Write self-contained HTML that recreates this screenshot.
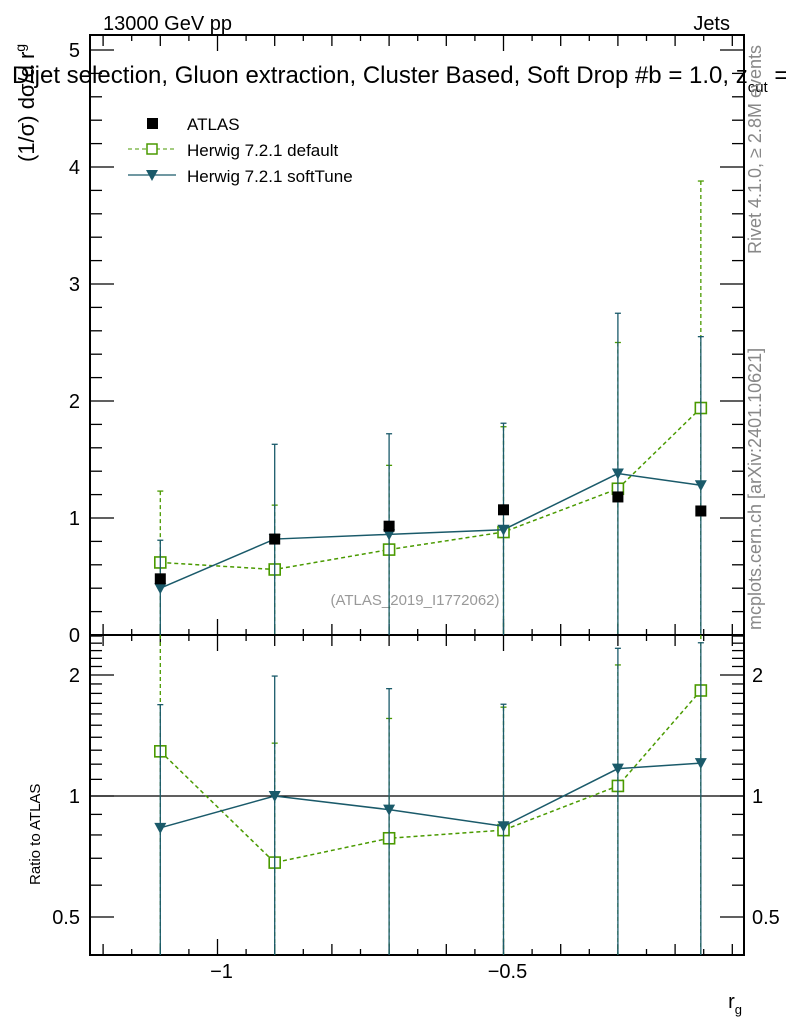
<!DOCTYPE html>
<html><head><meta charset="utf-8"><style>
body{margin:0;background:#fff;}
svg{font-family:"Liberation Sans",sans-serif;}
</style></head><body>
<svg id="c" width="786" height="1024" viewBox="0 0 786 1024" xmlns="http://www.w3.org/2000/svg">
<text x="103" y="30" font-size="20">13000 GeV pp</text>
<text x="730" y="30" font-size="20" text-anchor="end">Jets</text>
<text x="12" y="83" font-size="24">Dijet selection, Gluon extraction, Cluster Based, Soft Drop #b = 1.0, z<tspan font-size="15" dy="9">cut</tspan><tspan dy="-9"> =</tspan></text>
<text transform="translate(34,162) rotate(-90)" font-size="22">(1/σ) dσ/d r<tspan font-size="14" dy="-9">g</tspan></text>
<text transform="translate(40,885) rotate(-90)" font-size="15">Ratio to ATLAS</text>
<text x="742" y="1008" font-size="20" text-anchor="end">r<tspan font-size="13" dy="6">g</tspan></text>
<text transform="translate(761,254) rotate(-90)" font-size="18" fill="#888">Rivet 4.1.0, ≥ 2.8M events</text>
<text transform="translate(761,630) rotate(-90)" font-size="18" fill="#888">mcplots.cern.ch [arXiv:2401.10621]</text>
<text x="415" y="605" font-size="15" fill="#999" text-anchor="middle">(ATLAS_2019_I1772062)</text>
<g id="legend">
<rect x="147" y="118" width="11" height="11" fill="#000"/>
<text x="187" y="130" font-size="17">ATLAS</text>
<line x1="128" y1="149" x2="176" y2="149" stroke="#4a9a00" stroke-dasharray="4,3"/>
<rect x="147" y="144" width="10" height="10" fill="#fff" stroke="#4a9a00" stroke-width="1.5"/>
<text x="187" y="156" font-size="17">Herwig 7.2.1 default</text>
<line x1="128" y1="175" x2="176" y2="175" stroke="#1a5a6a" stroke-width="1.3"/>
<polygon points="146,170 158,170 152,181" fill="#1a5a6a"/>
<text x="187" y="182" font-size="17">Herwig 7.2.1 softTune</text>
</g>
<g id="plot"></g>
</svg>
<script>
const xVals=[-1.1,-0.9,-0.7,-0.5,-0.3,-0.155];
const atlas=[0.48,0.82,0.93,1.07,1.18,1.06];
const defVals=[0.62,0.56,0.73,0.88,1.25,1.94];
const defUp=[1.23,1.11,1.45,1.78,2.50,3.88];
const softVals=[0.40,0.82,0.86,0.90,1.38,1.28];
const softUp=[0.81,1.63,1.72,1.81,2.75,2.55];
const mainTicks=[0,1,2,3,4,5];
const ratioTicks=[0.5,1,2];
const xTicks=[-1,-0.5];

const NS="http://www.w3.org/2000/svg";
const g=document.getElementById('plot');
const L=90,R=744,T1=35,B1=635,B2=955;
const X=v=>217.5+(v+1)*572;
const Y=v=>635-v*117;
const YR=v=>796-Math.log2(v)*121;
function el(t,a){const e=document.createElementNS(NS,t);for(const k in a)e.setAttribute(k,a[k]);g.appendChild(e);return e;}
const clipM=v=>Math.max(T1,Math.min(B1,v));
const clipR=v=>Math.max(B1,Math.min(B2,v));

let f=el('rect',{x:L,y:T1,width:R-L,height:B1-T1,fill:'none',stroke:'#000','stroke-width':2});


f=el('rect',{x:L,y:B1,width:R-L,height:B2-B1,fill:'none',stroke:'#000','stroke-width':2});



for(let i=0;i<=30;i++){
  const v=-1.25+i*0.05; const x=X(v); if(x<L+2||x>R-2)continue;
  const isMaj=Math.abs(Math.round(v*10)-v*10)<1e-6;
  const isLab=xTicks.some(t=>Math.abs(t-v)<1e-6);
  const h=isLab?16:(isMaj?11:6);
  [[T1,1],[B1,-1],[B1,1],[B2,-1]].forEach(([y,d])=>{
    const t=el('line',{x1:x,x2:x,y1:y,y2:y+d*h,stroke:'#000','stroke-width':1.3});
    
    
  });
}
xTicks.forEach(v=>{
  const t=el('text',{x:X(v)+4,y:978,'font-size':20,'text-anchor':'middle'});t.textContent=String(v).replace('-','−');
  
  
});
for(let i=0;i<=51;i++){
  const v=i*0.2; const y=Y(v); if(y<T1)continue;
  const maj=i%5==0; const h=maj?24:12;
  [[L,1],[R,-1]].forEach(([x,d])=>{
    const t=el('line',{x1:x,x2:x+d*h,y1:y,y2:y,stroke:'#000','stroke-width':1.3});
    
    
  });
}
mainTicks.forEach(v=>{
  const t=el('text',{x:80,y:Y(v)+7,'font-size':20,'text-anchor':'end'});t.textContent=v;
  
  
});
for(let i=4;i<=25;i++){
  const v=i/10; const y=YR(v); if(y<B1||y>B2)continue;
  const maj=ratioTicks.some(t=>Math.abs(t-v)<1e-6); const h=maj?24:12;
  [[L,1],[R,-1]].forEach(([x,d])=>{
    const t=el('line',{x1:x,x2:x+d*h,y1:y,y2:y,stroke:'#000','stroke-width':1.3});
    
    
  });
}
ratioTicks.forEach(v=>{
  [[80,'end'],[752,'start']].forEach(([x,a])=>{
    const t=el('text',{x:x,y:YR(v)+7,'font-size':20,'text-anchor':a});t.textContent=v;
    
    
  });
});
let ln=el('line',{x1:L,x2:R,y1:YR(1),y2:YR(1),stroke:'#000','stroke-width':1.2});



function series(vals,up,col,dash,marker,name){
  const lo=vals.map((v,i)=>v-(up[i]-v));
  vals.forEach((v,i)=>{
    const x=X(xVals[i]);
    const e=el('line',{x1:x,x2:x,y1:clipM(Y(up[i])),y2:clipM(Y(lo[i])),stroke:col,'stroke-width':1.3,'stroke-dasharray':dash});
    
    
    const c=el('line',{x1:x-3,x2:x+3,y1:Y(up[i]),y2:Y(up[i]),stroke:col,'stroke-width':1.3});
    
    
    const ru=up[i]/atlas[i], rl=Math.max(0.01,lo[i]/atlas[i]);
    const e2=el('line',{x1:x,x2:x,y1:clipR(YR(ru)),y2:clipR(YR(rl)),stroke:col,'stroke-width':1.3,'stroke-dasharray':dash});
    
    
    if(YR(ru)>B1){const c2=el('line',{x1:x-3,x2:x+3,y1:YR(ru),y2:YR(ru),stroke:col,'stroke-width':1.3});
    
    }
  });
  const p=el('polyline',{points:vals.map((v,i)=>X(xVals[i])+','+Y(v)).join(' '),fill:'none',stroke:col,'stroke-width':1.5,'stroke-dasharray':dash});
  
  
  const p2=el('polyline',{points:vals.map((v,i)=>X(xVals[i])+','+YR(v/atlas[i])).join(' '),fill:'none',stroke:col,'stroke-width':1.5,'stroke-dasharray':dash});
  
  
  vals.forEach((v,i)=>{
    [Y(v),YR(v/atlas[i])].forEach((y,k)=>{
      const x=X(xVals[i]); let m;
      if(marker=='sq') m=el('rect',{x:x-5.5,y:y-5.5,width:11,height:11,fill:'#fff',stroke:col,'stroke-width':1.6});
      else m=el('polygon',{points:`${x-6},${y-5} ${x+6},${y-5} ${x},${y+6}`,fill:col});
      
      
    });
  });
}
series(defVals,defUp,'#4a9a00','4,3','sq','herwig-default');
series(softVals,softUp,'#1a5a6a','','tri','herwig-softtune');
atlas.forEach((v,i)=>{
  const m=el('rect',{x:X(xVals[i])-5.5,y:Y(v)-5.5,width:11,height:11,fill:'#000'});
  
  
});
</script>
</body></html>
